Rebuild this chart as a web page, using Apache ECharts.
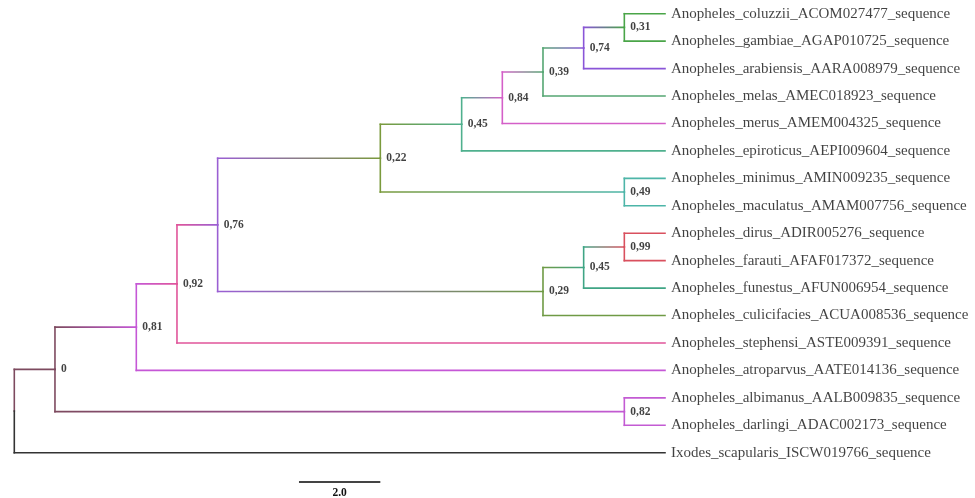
<!DOCTYPE html>
<html>
<head>
<meta charset="utf-8">
<script src="https://cdn.jsdelivr.net/npm/echarts@6/dist/echarts.min.js"></script>
<style>
html,body{margin:0;padding:0;background:#fff;}
#chart{width:975px;height:498px;}
</style>
</head>
<body>
<div id="chart"></div>
<script>
// ---- Data ----
const leafNames = [
  'Anopheles_coluzzii_ACOM027477_sequence',
  'Anopheles_gambiae_AGAP010725_sequence',
  'Anopheles_arabiensis_AARA008979_sequence',
  'Anopheles_melas_AMEC018923_sequence',
  'Anopheles_merus_AMEM004325_sequence',
  'Anopheles_epiroticus_AEPI009604_sequence',
  'Anopheles_minimus_AMIN009235_sequence',
  'Anopheles_maculatus_AMAM007756_sequence',
  'Anopheles_dirus_ADIR005276_sequence',
  'Anopheles_farauti_AFAF017372_sequence',
  'Anopheles_funestus_AFUN006954_sequence',
  'Anopheles_culicifacies_ACUA008536_sequence',
  'Anopheles_stephensi_ASTE009391_sequence',
  'Anopheles_atroparvus_AATE014136_sequence',
  'Anopheles_albimanus_AALB009835_sequence',
  'Anopheles_darlingi_ADAC002173_sequence',
  'Ixodes_scapularis_ISCW019766_sequence'
];
const leafParent = [10,10,9,8,7,6,11,11,14,14,13,12,3,2,15,15,0];
const leafDepth  = [16,16,16,16,16,16,16,16,16,16,16,16,16,16,16,16,16];
const leafColor  = ['#4aa548','#4aa548','#8a55d8','#55a672','#d45fc8','#4fb08e','#4db5a8','#4db5a8',
                    '#d9505e','#d9505e','#3fa585','#6f9a45','#e0559a','#c557d6','#c35bd3','#c35bd3','#333333'];

const nodeSupport = ['', '0','0,81','0,92','0,76','0,22','0,45','0,84','0,39','0,74','0,31','0,49','0,29','0,45','0,99','0,82'];
const nodeParent  = [-1, 0, 1, 2, 3, 4, 5, 6, 7, 8, 9, 5, 4, 12, 13, 1];
const nodeDepth   = [0, 1, 3, 4, 5, 9, 11, 12, 13, 14, 15, 15, 13, 14, 15, 15];
const nodeColor   = [null,'#7d4a5f','#c557d6','#e0559a','#9a5fd3','#7a9a3c','#4fb08e','#d45fc8',
                     '#55a672','#8a55d8','#4aa548','#4db5a8','#6f9a45','#3fa585','#d9505e','#c35bd3'];

const scaleBarStart = 7;
const scaleBarLength = 2;
const scaleBarLabel = '2.0';

// ---- Tree layout (y from leaf order, x from branch depth) ----
const nNodes = nodeParent.length;
const children = Array.from({length: nNodes}, () => []);
for (let i = 1; i < nNodes; i++) children[nodeParent[i]].push({type: 'node', id: i});
leafParent.forEach((p, i) => children[p].push({type: 'leaf', id: i}));
const nodeY = new Array(nNodes).fill(null);
function yOf(c) { return c.type === 'leaf' ? c.id : computeY(c.id); }
function computeY(id) {
  if (nodeY[id] !== null) return nodeY[id];
  const ys = children[id].map(yOf);
  nodeY[id] = (Math.min(...ys) + Math.max(...ys)) / 2;
  return nodeY[id];
}
for (let i = 0; i < nNodes; i++) computeY(i);
function xOf(c) { return c.type === 'leaf' ? leafDepth[c.id] : nodeDepth[c.id]; }
function colOf(c) { return c.type === 'leaf' ? leafColor[c.id] : nodeColor[c.id]; }

const segs = [];      // [x1,y1,x2,y2]
const segStyle = [];  // {c1,c2}
for (let p = 0; p < nNodes; p++) {
  const px = nodeDepth[p], py = nodeY[p];
  children[p].forEach(c => {
    const cx = xOf(c), cy = yOf(c), cc = colOf(c);
    const pc = nodeColor[p] || cc;
    segs.push([px, py, px, cy]); segStyle.push({c1: pc, c2: pc});
    segs.push([px, cy, cx, cy]); segStyle.push({c1: pc, c2: cc});
  });
}

const leafPoints = leafNames.map((n, i) => [leafDepth[i], i, n]);
const supportPoints = [];
for (let i = 1; i < nNodes; i++) supportPoints.push([nodeDepth[i], nodeY[i], nodeSupport[i]]);

const chart = echarts.init(document.getElementById('chart'), null, {renderer: 'canvas'});
const SERIF = '"Liberation Serif","Times New Roman",serif';
const scaleY = 17.07;

chart.setOption({
  backgroundColor: '#ffffff',
  animation: false,
  grid: {left: 14.3, top: 13.7, width: 650.7, height: 27.44 * 17.5},
  xAxis: {type: 'value', min: 0, max: 16, show: false},
  yAxis: {type: 'value', min: 0, max: 17.5, inverse: true, show: false},
  series: [
    {
      type: 'custom',
      data: segs,
      clip: false,
      renderItem: function (params, api) {
        const s = segStyle[params.dataIndex];
        const a = api.coord([api.value(0), api.value(1)]);
        const b = api.coord([api.value(2), api.value(3)]);
        let stroke = s.c1;
        if (s.c1 !== s.c2 && Math.abs(b[0] - a[0]) > 0.5) {
          stroke = new echarts.graphic.LinearGradient(a[0], a[1], b[0], b[1],
            [{offset: 0, color: s.c1}, {offset: 1, color: s.c2}], true);
        }
        return {
          type: 'line',
          shape: {x1: a[0], y1: a[1], x2: b[0], y2: b[1]},
          style: {stroke: stroke, lineWidth: 1.6, lineCap: 'square'}
        };
      }
    },
    {
      type: 'scatter',
      data: leafPoints,
      symbolSize: 0,
      silent: true,
      label: {
        show: true, position: 'right', distance: 6,
        formatter: p => p.data[2],
        fontFamily: SERIF, fontSize: 15, color: '#111'
      }
    },
    {
      type: 'scatter',
      data: supportPoints,
      symbolSize: 0,
      silent: true,
      label: {
        show: true, position: 'right', distance: 6,
        formatter: p => p.data[2],
        fontFamily: SERIF, fontSize: 11.5, fontWeight: 'bold', color: '#111'
      }
    },
    {
      type: 'custom',
      data: [[scaleBarStart, scaleY, scaleBarStart + scaleBarLength, scaleY]],
      clip: false,
      renderItem: function (params, api) {
        const a = api.coord([api.value(0), api.value(1)]);
        const b = api.coord([api.value(2), api.value(3)]);
        return {
          type: 'group',
          children: [
            {type: 'line', shape: {x1: a[0], y1: a[1], x2: b[0], y2: b[1]},
             style: {stroke: '#444', lineWidth: 2}},
            {type: 'text', x: (a[0] + b[0]) / 2, y: a[1] + 5,
             style: {text: scaleBarLabel, fontFamily: SERIF, fontSize: 11.5, fontWeight: 'bold',
                     fill: '#111', align: 'center', verticalAlign: 'top'}}
          ]
        };
      }
    }
  ]
});
</script>
</body>
</html>
